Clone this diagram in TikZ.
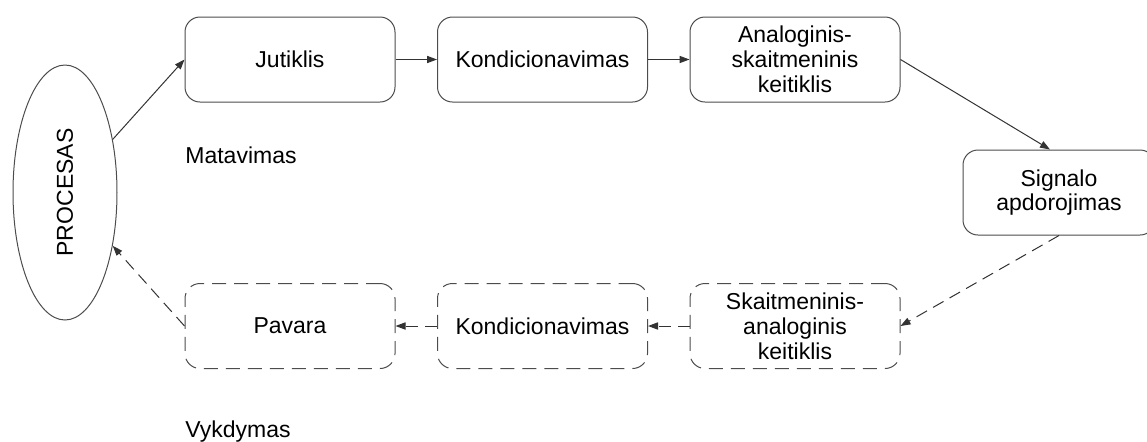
\documentclass[tikz,border=0pt]{standalone}
\usepackage{fontspec}
\setmainfont{Liberation Sans}
\usetikzlibrary{arrows.meta,shapes.geometric}
\begin{document}
\begin{tikzpicture}[x=0.5pt,y=-0.5pt,
  txt/.style={font=\fontsize{11.5pt}{12.4pt}\selectfont},
  stage/.style={txt,draw=black!70,line width=0.5pt,rounded corners=7.5pt,
    minimum width=105pt,minimum height=42.5pt,inner sep=0pt,align=center},
  dstage/.style={stage,dash pattern=on 7pt off 4pt},
  link/.style={draw=black!80,line width=0.5pt,-{Triangle[length=5pt,width=3.6pt]}},
  dlink/.style={link,dash pattern=on 6pt off 3.5pt}]
\useasboundingbox (0,0) rectangle (1147,441);

% process being measured and driven
\node[ellipse,draw=black!70,line width=0.5pt,minimum width=52pt,minimum height=127.5pt,inner sep=0pt]
  (proc) at (65,192.5) {};
\node[txt,rotate=90] (proclbl) at (proc.center) {PROCESAS};

% measurement chain
\node[stage] (jut) at (290,59.5) {Jutiklis};
\node[stage] (kondA) at (542.5,59.5) {Kondicionavimas};
\node[stage] (adc) at (795,59.5) {Analoginis-\\skaitmeninis\\keitiklis};
\node[stage,minimum width=96pt] (sig) at (1059,192.5) {Signalo\\apdorojimas};

% actuation chain
\node[dstage] (dac) at (795,326) {Skaitmeninis-\\analoginis\\keitiklis};
\node[dstage] (kondB) at (542.5,326) {Kondicionavimas};
\node[dstage] (pav) at (290,326) {Pavara};

% section labels
\node[txt,anchor=base west,inner sep=0pt] (meas) at (185,163) {Matavimas};
\node[txt,anchor=base west,inner sep=0pt] (act) at (185,437) {Vykdymas};

% connectors
\draw[link] (proc) -- (jut.west);
\draw[link] (jut.east) -- (kondA.west);
\draw[link] (kondA.east) -- (adc.west);
\draw[link] (adc.east) -- ([xshift=-4.5pt]sig.north);
\draw[dlink] (sig.south) -- (dac.east);
\draw[dlink] (dac.west) -- (kondB.east);
\draw[dlink] (kondB.west) -- (pav.east);
\draw[dlink] (pav.west) -- (proc);
\end{tikzpicture}
\end{document}
